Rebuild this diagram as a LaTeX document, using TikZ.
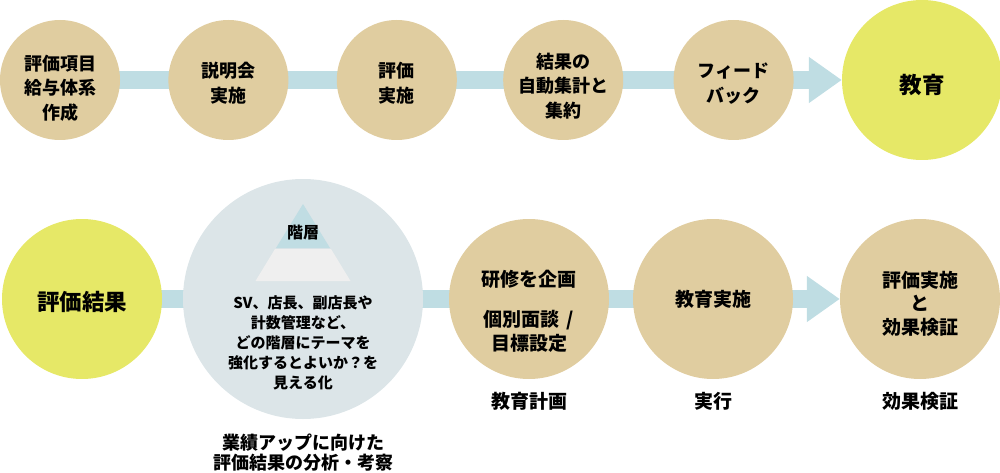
\documentclass[tikz,border=0pt]{standalone}
\usepackage{fontspec}
\setmainfont{Noto Sans CJK JP}
\usetikzlibrary{arrows.meta, positioning, backgrounds}

\definecolor{tan}{HTML}{E0CDA0}
\definecolor{lemon}{HTML}{E6E867}
\definecolor{bar}{HTML}{BFDDE3}
\definecolor{mist}{HTML}{DCE5E8}
\definecolor{peak}{HTML}{C0DDE3}
\definecolor{floor}{HTML}{EFEFEF}

% invisible strut that pushes a circle's text a little down
\newcommand{\lift}[1]{\rule{0pt}{#1}}

\tikzset{
  stage/.style={circle, fill=tan, minimum size=160pt, inner sep=0pt, align=center,
    font=\fontsize{19}{23.5}\selectfont\bfseries},
  small/.style={stage, minimum size=120pt, font=\fontsize{18}{24.5}\selectfont\bfseries},
  goal/.style={stage, fill=lemon, font=\fontsize{22.5}{26}\selectfont\bfseries},
  flow/.style={bar, line width=18pt, -{Triangle[length=33pt,width=44pt]}},
  caption/.style={align=center, font=\fontsize{19}{21}\selectfont\bfseries},
}

\begin{document}
\begin{tikzpicture}[x=1pt, y=-1pt]
\useasboundingbox (0,0) rectangle (1000,473);

% top row
\node[small] (c1) at (60,80) {\lift{31pt}評価項目\\給与体系\\作成};
\node[small, right=48pt of c1] (c2) {\lift{22pt}説明会\\実施};
\node[small, right=48pt of c2] (c3) {\lift{22pt}評価\\実施};
\node[small, right=46pt of c3] (c4) {\lift{27pt}結果の\\自動集計と\\集約};
\node[small, right=50pt of c4] (c5) {\lift{22pt}フィード\\バック};
\node[goal, right=48pt of c5] (c6) {\lift{29pt}教育};

% bottom row
\node[goal] (e1) at (82,299) {\lift{25pt}評価結果};
\node[circle, fill=mist, minimum size=240pt] (e2) at (303,299) {};
\node[stage] (e3) at (529,299) {\lift{40pt}研修を企画\\[17pt]個別面談\hspace{7pt}/\\目標設定};
\node[stage] (e4) at (713,299) {教育実施};
\node[stage] (e5) at (920,299) {\lift{25pt}評価実施\\と\\効果検証};

% pyramid inside the analysis circle
\begin{scope}[shift={(e2.center)}]
  \fill[peak] (0,-95) -- (27,-51) -- (-27,-51) -- cycle;
  \fill[floor] (-28,-50) -- (28,-50) -- (47.5,-18) -- (-47.5,-18) -- cycle;
  \node[font=\fontsize{16}{18}\selectfont\bfseries] (tier) at (0,-66) {階層};
  \node[align=center, font=\fontsize{15}{20}\selectfont\bfseries] (note) at (0,43.5)
    {SV、店長、副店長や\\計数管理など、\\どの階層にテーマを\\強化するとよいか？を\\見える化};
\end{scope}

% captions
\node[caption, font=\fontsize{18}{20}\selectfont\bfseries] (cap) at (303,453) {業績アップに向けた\\評価結果の分析・考察};
\node[caption] (plan) at (529,401) {教育計画};
\node[caption] (run) at (713,401) {実行};
\node[caption] (check) at (920,401) {効果検証};

% connectors
\begin{scope}[on background layer]
  \draw[flow] (c1.center) -- (c6.west);
  \draw[flow] (e1.center) -- (e5.west);
\end{scope}
\end{tikzpicture}
\end{document}
